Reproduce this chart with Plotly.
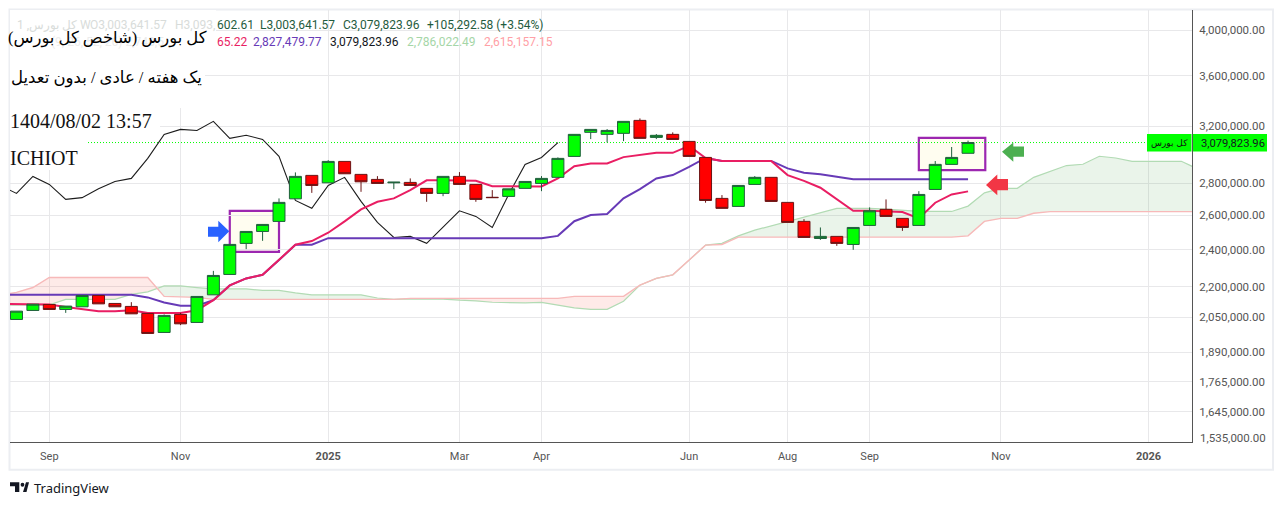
import math
from datetime import timedelta
import pandas as pd
import plotly.graph_objects as go

# ---------- data (all values in thousands of index points, weekly bars) ----------
first_week = "2024-08-12"   # one week before the first visible candle
opens_k = [2039.5,2082.8,2112,2087.6,2100.5,2156.8,2117,2102.4,2068.3,1978.7,2063.5,2025.4,2160,2265,2434.9,2503.7,2562.8,2701.4,2852.9,2804,2947.3,2859.6,2826.3,2804,2806.7,2768,2735.7,2846.3,2793.6,2711,2716.6,2768,2800,2840,2982,3154,3139,3146.5,3243,3117,3139,3088,2975,2704,2654,2793.6,2840,2679,2563,2463,2475,2429,2539,2636,2581,2539,2761,2927,3003.64157]
highs_k = [2079.4,2113.5,2112,2104,2156.8,2156.8,2117,2123.4,2068.3,2063.5,2071.1,2151.8,2284,2429.2,2503.7,2544.9,2704,2872.9,2852.9,2956.3,2947.3,2859.6,2848,2808,2833,2768,2846.3,2875,2793.6,2756.7,2765,2813,2848.3,2975,3139,3175.6,3178,3235.6,3258,3141.5,3153.7,3088,2975,2725,2787,2848.3,2840,2679,2576.5,2527,2475,2527,2648,2697.6,2581,2750,2950,3048,3093.60261]
lows_k = [2039.5,2082.8,2087.6,2071.1,2100.5,2115,2100.5,2066.4,1974.1,1978.7,2012.7,2025.4,2160,2265,2402.6,2449.5,2562.8,2701.4,2739,2804,2863.6,2745.8,2800,2763,2787,2682.7,2718,2793.6,2682.7,2709,2716.6,2768,2750,2840,2982,3104.7,3081,3090,3110,3104.7,3102,2982,2677,2642,2654,2793.6,2685,2557,2469,2455,2421,2398.7,2539,2593,2507,2539,2761,2927,3003.64157]
closes_k = [2079.4,2113.5,2087.6,2104,2156.8,2115,2100.5,2066.4,1974.1,2058.8,2018.8,2151.8,2259.7,2429.2,2503.7,2544.9,2679,2846.3,2787,2947.3,2863.6,2810.6,2800,2808,2787,2735.7,2846.3,2793.6,2697.6,2709,2765,2813,2833,2968.2,3139,3175.6,3168,3235.6,3110,3132,3102,2982,2691,2642,2787,2840,2685,2557,2469,2475,2435,2527,2627,2593,2527,2729,2927,2975,3079.82396]

# one extra leading value (off the left edge) for the lines
tenkan_k = [2115,2115,2115,2112,2100,2088,2079,2079,2084,2070,2070,2070,2084,2133,2208,2244,2263,2342,2427,2448,2496,2563,2636,2683,2704,2757,2820,2820,2820,2817,2782,2780,2780,2780,2833,2915,2933,2933,2977,2991,3007,3007,3056,2971,2951,2951,2951,2951,2855,2817,2772,2697.6,2627,2627,2623,2619,2581,2677,2729,2748.56522]
kijun_k = [2160,2160,2160,2160,2160,2160,2160,2160,2160,2147,2122,2106,2106,2133,2208,2244,2263,2342,2427,2427,2465,2465,2465,2465,2465,2465,2465,2465,2465,2465,2465,2465,2465,2465,2478,2564,2601,2607,2704,2763,2833,2855,2910,2971,2951,2951,2951,2951,2900,2871,2860,2842,2827.48,2827.48,2827.48,2827.48,2827.48,2827.48,2827.48,2827.48]
span_a_k = [2109,2109,2110,2110,2137,2137,2137,2137,2162,2175,2205,2205,2197,2190,2190,2190,2182,2182,2170,2160,2160,2160,2160,2144,2137,2140,2140,2138,2133,2130,2123,2120,2120,2122,2109,2095,2088,2088,2128,2209,2244,2263,2342,2425,2435,2478,2511,2537,2564,2591,2615,2642,2642,2642,2637,2631,2623,2623,2623,2656,2739,2768,2768,2840,2881,2919,2928,2983,2971,2948,2948,2948,2948,2896]
span_b_k = [2158,2172,2197,2249,2249,2249,2249,2249,2249,2249,2152,2150,2147,2137,2137,2137,2137,2137,2137,2137,2137,2137,2137,2137,2137,2142,2142,2142,2142,2142,2142,2142,2142,2142,2142,2152,2152,2152,2152,2209,2244,2263,2342,2425,2429,2471,2471,2471,2471,2471,2471,2471,2471,2471,2471,2471,2471,2471,2471,2478,2563,2581,2581,2612,2622,2622,2622,2622,2622,2622,2622,2622,2622,2622]

y_ticks = [4000000,3600000,3200000,2800000,2600000,2400000,2200000,2050000,1890000,1765000,1645000,1535000]
x_tick_weeks = [3,11,20,28,33,42,48,53,61,70]   # positions in the week list
x_tick_labels = ["Sep","Nov","<b>2025</b>","Mar","Apr","Jun","Aug","Sep","Nov","<b>2026</b>"]

legend_row1 = [(216,"602.61"),(259,"L3,003,641.57"),(342,"C3,079,823.96"),(426,"+105,292.58 (+3.54%)")]
legend_row2 = [(216,"65.22","#e91e63"),(252,"2,827,479.77","#673ab7"),(329,"3,079,823.96","#131722"),(406,"2,786,022.49","#a5d6a7"),(483,"2,615,157.15","#ffa0a6")]

# ---------- helpers ----------
W, H = 1282, 505
L, R, T, B = 10, 1192, 10, 441.7
def px(x): return (x - L) / (R - L)
def py(y): return 1 - (y - T) / (B - T)
def path(points):
    return "M" + " L".join(f"{px(a):.5f},{py(b):.5f}" for a, b in points) + " Z"

t0 = pd.Timestamp(first_week)
weeks = [t0 + timedelta(days=7 * i) for i in range(74)]
candle_weeks = weeks[1:60]
week_pos = lambda v: t0 + timedelta(days=7 * (v + 1))   # v = candle index (fractional)
x_range = [week_pos(-0.396), week_pos(71.65)]
y_range = [math.log10(1.533e6), math.log10(4.194e6)]

k = lambda arr: [v * 1000 for v in arr]
opens, highs, lows, closes = k(opens_k), k(highs_k), k(lows_k), k(closes_k)
tenkan, kijun, span_a, span_b = k(tenkan_k), k(kijun_k), k(span_a_k), k(span_b_k)
chikou = closes[24:]          # the lagging span is the close moved back 25 weeks

def cloud_nodes(xs, a, b):
    out_x, out_a, out_b = [], [], []
    for i in range(len(xs)):
        out_x.append(xs[i]); out_a.append(a[i]); out_b.append(b[i])
        if i + 1 < len(xs):
            d0, d1 = a[i] - b[i], a[i + 1] - b[i + 1]
            if d0 * d1 < 0:
                f = d0 / (d0 - d1)
                out_x.append(xs[i] + (xs[i + 1] - xs[i]) * f)
                v = a[i] + (a[i + 1] - a[i]) * f
                out_a.append(v); out_b.append(v)
    return out_x, out_a, out_b

cx, ca, cb = cloud_nodes(weeks[:len(span_a)], span_a, span_b)
top = [max(p, q) for p, q in zip(ca, cb)]

fig = go.Figure()
none = dict(width=0, color="rgba(0,0,0,0)")
fig.add_trace(go.Scatter(x=cx, y=cb, mode="lines", line=none, hoverinfo="skip"))
fig.add_trace(go.Scatter(x=cx, y=top, mode="lines", line=none, fill="tonexty", fillcolor="rgba(67,160,71,0.115)", hoverinfo="skip"))
fig.add_trace(go.Scatter(x=cx, y=ca, mode="lines", line=none, hoverinfo="skip"))
fig.add_trace(go.Scatter(x=cx, y=top, mode="lines", line=none, fill="tonexty", fillcolor="rgba(244,67,54,0.115)", hoverinfo="skip"))
fig.add_trace(go.Scatter(x=weeks, y=span_a, mode="lines", line=dict(color="#b2dbb4", width=1.2), hoverinfo="skip"))
fig.add_trace(go.Scatter(x=weeks, y=span_b, mode="lines", line=dict(color="#f7b9b9", width=1.4), hoverinfo="skip"))
fig.add_trace(go.Scatter(x=weeks[:len(chikou)], y=chikou, mode="lines", line=dict(color="#1c1c1c", width=1.1), hoverinfo="skip"))
fig.add_trace(go.Scatter(x=weeks[:len(kijun)], y=kijun, mode="lines", line=dict(color="#673ab7", width=2), hoverinfo="skip"))
fig.add_trace(go.Scatter(x=weeks[:len(tenkan)], y=tenkan, mode="lines", line=dict(color="#e91e63", width=2), hoverinfo="skip"))
fig.add_trace(go.Candlestick(
    x=candle_weeks, open=opens, high=highs, low=lows, close=closes,
    xaxis="x2", yaxis="y2", whiskerwidth=0,
    increasing=dict(fillcolor="#00ff00", line=dict(color="#1f5f3c", width=1)),
    decreasing=dict(fillcolor="#ff0000", line=dict(color="#6b1414", width=1)),
    hoverinfo="skip"))

shapes = []
rect_line = dict(color="#9c27b0", width=2.2)
shapes.append(dict(type="rect", xref="x", yref="y", layer="below", x0=week_pos(13), x1=week_pos(16),
                   y0=2387000, y1=2627000, fillcolor="#fffdf0", line=rect_line))
shapes.append(dict(type="rect", xref="x", yref="y", layer="below", x0=week_pos(55), x1=week_pos(59.05),
                   y0=2888000, y1=3114000, fillcolor="#fffdf0", line=rect_line))
shapes.append(dict(type="line", xref="x", yref="y", layer="below", x0=x_range[0], x1=x_range[1],
                   y0=closes[-1], y1=closes[-1], line=dict(color="#00ff00", width=1, dash="1px,2px")))
# white panels behind the overlaid title text
for x0, x1, y0, y1 in [(10,216,10,36),(10,205,36,108),(10,160,108,134),(10,88,134,170)]:
    shapes.append(dict(type="rect", xref="paper", yref="paper", layer="above",
                       x0=px(x0), x1=px(x1), y0=py(y1), y1=py(y0), fillcolor="white", line=dict(width=0)))
# arrows
for pts, col in [
    ([(229.3,231),(218.3,220.7),(218.3,226.7),(208,226.7),(208,236.7),(218.3,236.7),(218.3,242)], "#2962ff"),
    ([(1002,151.7),(1013.3,142.3),(1013.3,146.3),(1024,146.3),(1024,156.7),(1013.3,156.7),(1013.3,161.7)], "#4caf50"),
    ([(986,185),(997.3,174.3),(997.3,179),(1008,179),(1008,190),(997.3,190),(997.3,195)], "#f23645"),
]:
    shapes.append(dict(type="path", xref="paper", yref="paper", layer="above", path=path(pts), fillcolor=col, line=dict(width=0)))
# price tags
shapes.append(dict(type="rect", xref="paper", yref="paper", layer="above", x0=px(1147), x1=px(1191.5), y0=py(151.5), y1=py(134),
                   fillcolor="#00ff00", line=dict(width=0)))
shapes.append(dict(type="rect", xref="paper", yref="paper", layer="above", x0=px(1193), x1=px(1267), y0=py(151.5), y1=py(134),
                   fillcolor="#00ff00", line=dict(width=0)))
# outer frame
shapes.append(dict(type="rect", xref="paper", yref="paper", layer="below", x0=px(9.5), x1=px(1273), y0=py(469.5), y1=py(9.5),
                   line=dict(color="#eceef2", width=2), fillcolor="rgba(0,0,0,0)"))
# TradingView logo
for pts in [[(10,482),(19.3,482),(19.3,491.7),(15,491.7),(15,486),(10,486)],
            [(23,491.7),(26,482),(29,482),(26.5,491.7)]]:
    shapes.append(dict(type="path", xref="paper", yref="paper", layer="above", path=path(pts), fillcolor="#131722", line=dict(width=0)))
shapes.append(dict(type="circle", xref="paper", yref="paper", layer="above", x0=px(20.6), x1=px(24.4), y0=py(486.4), y1=py(482.4),
                   fillcolor="#131722", line=dict(width=0)))

ann = []
def text(x, y, s, size, color, font="Roboto", anchor="left"):
    ann.append(dict(xref="paper", yref="paper", x=px(x), y=py(y), text=s, showarrow=False, xanchor=anchor, yanchor="middle",
                    font=dict(family=font, size=size, color=color), borderpad=0, align=anchor))

axis_font = dict(family="Roboto", size=11.5, color="#555555")
faded = "#d8dcda"
text(16, 25, "1 ,کل بورس W", 12, faded)
text(89, 25, "O3,003,641.57", 12, faded)
text(174, 25, "H3,093,", 12, faded)
text(50, 42, "(9, 26, 52, 26) 2,748,5", 12, "#ececec")
for x, s in legend_row1:
    text(x, 25, s, 12, "#1f5c3e")
for x, s, c in legend_row2:
    text(x, 42, s, 12, c)
serif = "Liberation Serif, DejaVu Sans"
text(208, 38, "کل بورس (شاخص کل بورس)", 16.4, "#000000", serif, "right")
text(203, 78, "یک هفته / عادی / بدون تعدیل", 16.5, "#000000", serif, "right")
text(8.5, 121, "1404/08/02 13:57", 20, "#111111", "Liberation Serif")
text(8.5, 158, "ICHIOT", 20, "#111111", "Liberation Serif")
text(1169, 143, "کل بورس", 9, "#111111", "DejaVu Sans", "center")
text(1200, 143, "3,079,823.96", 11.2, "#131722")
text(1198.5, 438, f"{y_ticks[-1]:,.2f}", 11.5, "#555555")
text(33, 488, "TradingView", 13, "#131722", "Noto Sans")

tick_x = [weeks[i] for i in x_tick_weeks]
fig.update_layout(
    width=W, height=H, autosize=False,
    margin=dict(l=L, r=W - R, t=T, b=H - B, autoexpand=False, pad=0),
    paper_bgcolor="white", plot_bgcolor="white", showlegend=False,
    boxgap=0.27, boxgroupgap=0,
    xaxis=dict(type="date", range=x_range, tickmode="array", tickvals=tick_x, ticktext=x_tick_labels,
               showgrid=True, gridcolor="#e8e8ea", gridwidth=1, zeroline=False, showline=True, linecolor="#555555", linewidth=1,
               ticks="outside", ticklen=4, tickcolor="rgba(0,0,0,0)", tickfont=dict(family="Roboto", size=11, color="#555555"),
               fixedrange=True, rangeslider=dict(visible=False)),
    yaxis=dict(type="log", side="right", range=y_range, tickmode="array", tickvals=y_ticks,
               ticktext=[f"{v:,.2f}" if v != y_ticks[-1] else " " for v in y_ticks],
               showgrid=True, gridcolor="#e8e8ea", gridwidth=1, zeroline=False, showline=True, linecolor="#555555", linewidth=1,
               ticks="outside", ticklen=4, tickcolor="rgba(0,0,0,0)", tickfont=axis_font, fixedrange=True),
    xaxis2=dict(type="date", range=x_range, overlaying="x", anchor="y2", visible=False, rangeslider=dict(visible=False), fixedrange=True),
    yaxis2=dict(type="log", range=y_range, overlaying="y", anchor="x2", side="right", visible=False, fixedrange=True),
    shapes=shapes, annotations=ann,
)
fig.write_html("out.html", config=dict(displayModeBar=False),
               post_script="document.body.style.margin='0';document.body.style.overflow='hidden';")
